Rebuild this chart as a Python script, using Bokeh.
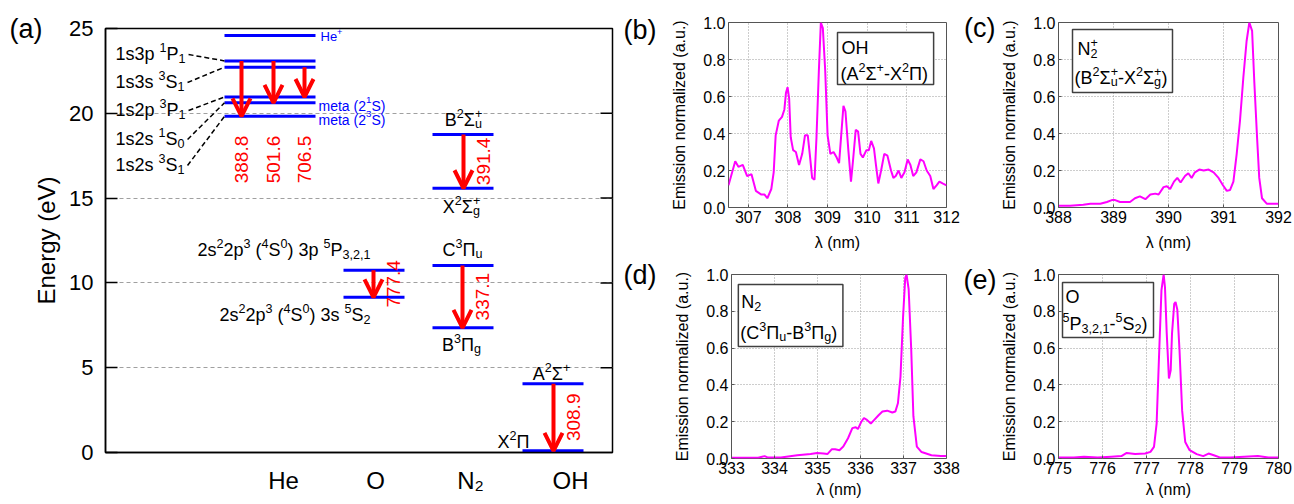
import math
from bokeh.plotting import figure
from bokeh.models import (Range1d, FixedTicker, Arrow, OpenHead, ColumnDataSource,
                          PrintfTickFormatter, LinearAxis)
from bokeh.layouts import row, column
from bokeh.embed import file_html
from bokeh.resources import INLINE
from bokeh.core.properties import value

FONT = "Liberation Sans"
RED = "#ff0000"
BLUE = "#0000ff"
MAGENTA = "#ff00ff"

# ---------------- data: panel (a) energy diagram ----------------
species = ["He", "O", "N₂", "OH"]
energy_ticks = [0, 5, 10, 15, 20, 25]
he_levels = [24.59, 23.09, 22.72, 20.96, 20.62, 19.82]
he_level_names = ["1s3p ^{1}P_{1}", "1s3s ^{3}S_{1}", "1s2p ^{3}P_{1}", "1s2s ^{1}S_{0}", "1s2s ^{3}S_{1}"]
he_named_levels = [23.09, 22.72, 20.96, 20.62, 19.82]
he_tags = ["He^{+}", "meta (2^{1}S)", "meta (2^{3}S)"]
o_levels = [10.74, 9.15]
o_level_names = ["2s^{2}2p^{3} (^{4}S^{0}) 3p ^{5}P_{3,2,1}", "2s^{2}2p^{3} (^{4}S^{0}) 3s ^{5}S_{2}"]
n2p_levels = [18.75, 15.58]
n2p_level_names = ["B^{2}Σ_{u}^{+}", "X^{2}Σ_{g}^{+}"]
n2_levels = [11.03, 7.35]
n2_level_names = ["C^{3}Π_{u}", "B^{3}Π_{g}"]
oh_levels = [4.05, 0.10]
oh_level_names = ["A^{2}Σ^{+}", "X^{2}Π"]
trans_wavelength = ["388.8", "501.6", "706.5", "777.4", "391.4", "337.1", "308.9"]
trans_upper = [23.09, 23.09, 22.72, 10.74, 18.75, 11.03, 4.05]
trans_lower = [19.82, 20.62, 20.96, 9.15, 15.58, 7.35, 0.10]

# ---------------- data: spectra ----------------
b_x = [306.50, 306.67, 306.75, 306.86, 306.97, 307.08, 307.19, 307.33, 307.41, 307.48,
       307.58, 307.64, 307.69, 307.77, 307.85, 307.91, 307.95, 307.99, 308.03, 308.07,
       308.13, 308.20, 308.28, 308.36, 308.43, 308.50, 308.55, 308.61, 308.67, 308.72,
       308.78, 308.83, 308.88, 308.94, 309.00, 309.07, 309.15, 309.23, 309.29, 309.34,
       309.40, 309.45, 309.52, 309.59, 309.64, 309.71, 309.77, 309.83, 309.89, 309.98,
       310.04, 310.10, 310.17, 310.22, 310.28, 310.35, 310.43, 310.51, 310.60, 310.66,
       310.72, 310.79, 310.86, 310.94, 311.02, 311.09, 311.16, 311.24, 311.34, 311.42,
       311.50, 311.59, 311.67, 311.75, 311.82, 311.90, 312.00]
b_y = [0.12, 0.25, 0.22, 0.23, 0.17, 0.18, 0.09, 0.07, 0.07, 0.05,
       0.10, 0.19, 0.39, 0.47, 0.49, 0.53, 0.62, 0.65, 0.59, 0.38,
       0.31, 0.30, 0.23, 0.29, 0.39, 0.39, 0.29, 0.16, 0.15, 0.38,
       0.74, 1.00, 0.97, 0.74, 0.39, 0.29, 0.30, 0.27, 0.24, 0.38,
       0.55, 0.52, 0.32, 0.14, 0.25, 0.42, 0.41, 0.29, 0.27, 0.31,
       0.31, 0.36, 0.32, 0.23, 0.13, 0.20, 0.29, 0.28, 0.20, 0.16,
       0.17, 0.20, 0.16, 0.19, 0.26, 0.23, 0.17, 0.19, 0.26, 0.25,
       0.20, 0.17, 0.10, 0.12, 0.14, 0.13, 0.12]
b_ticks = [307, 308, 309, 310, 311, 312]

c_x = [388.00, 388.21, 388.45, 388.58, 388.76, 388.88, 388.97, 389.03, 389.12, 389.21,
       389.30, 389.39, 389.48, 389.58, 389.67, 389.76, 389.82, 389.91, 389.97, 390.03,
       390.10, 390.16, 390.22, 390.30, 390.36, 390.42, 390.48, 390.56, 390.64, 390.73,
       390.82, 390.91, 390.99, 391.06, 391.12, 391.18, 391.24, 391.30, 391.36, 391.42,
       391.47, 391.52, 391.56, 391.61, 391.65, 391.70, 391.79, 392.00]
c_y = [0.01, 0.01, 0.015, 0.02, 0.02, 0.03, 0.04, 0.04, 0.03, 0.03,
       0.03, 0.05, 0.06, 0.045, 0.07, 0.075, 0.07, 0.11, 0.115, 0.10,
       0.14, 0.16, 0.135, 0.17, 0.185, 0.16, 0.19, 0.205, 0.20, 0.205,
       0.19, 0.16, 0.12, 0.09, 0.095, 0.14, 0.29, 0.47, 0.70, 0.90,
       1.00, 0.955, 0.68, 0.38, 0.16, 0.05, 0.02, 0.02]
c_ticks = [388, 389, 390, 391, 392]

d_x = [333.00, 333.62, 333.77, 333.85, 334.15, 334.53, 334.84, 334.99, 335.14, 335.23,
       335.33, 335.41, 335.51, 335.60, 335.71, 335.81, 335.89, 335.94, 336.02, 336.08,
       336.15, 336.24, 336.32, 336.42, 336.51, 336.62, 336.74, 336.81, 336.87, 336.93,
       336.99, 337.04, 337.07, 337.12, 337.18, 337.23, 337.31, 337.42, 337.65, 337.87, 338.00]
d_y = [0.004, 0.004, 0.013, 0.005, 0.005, 0.018, 0.024, 0.03, 0.027, 0.024,
       0.05, 0.05, 0.045, 0.065, 0.11, 0.165, 0.17, 0.16, 0.20, 0.22,
       0.21, 0.19, 0.21, 0.235, 0.255, 0.26, 0.25, 0.255, 0.30, 0.445,
       0.77, 0.98, 1.00, 0.92, 0.59, 0.23, 0.065, 0.035, 0.018, 0.013, 0.013]
d_ticks = [333, 334, 335, 336, 337, 338]

e_x = [775.00, 775.35, 775.58, 775.89, 776.20, 776.43, 776.55, 776.74, 776.97, 777.09,
       777.17, 777.23, 777.29, 777.34, 777.39, 777.42, 777.46, 777.51, 777.55, 777.58,
       777.63, 777.66, 777.70, 777.75, 777.81, 777.88, 777.98, 778.14, 778.29, 778.41,
       778.53, 778.68, 778.91, 779.22, 779.53, 779.77, 780.00]
e_y = [0.005, 0.005, 0.01, 0.005, 0.01, 0.013, 0.03, 0.024, 0.027, 0.036,
       0.063, 0.19, 0.59, 0.915, 1.00, 0.93, 0.68, 0.435, 0.48, 0.68,
       0.84, 0.85, 0.81, 0.59, 0.26, 0.09, 0.045, 0.024, 0.013, 0.027,
       0.018, 0.005, 0.005, 0.01, 0.013, 0.005, 0.005]
e_ticks = [775, 776, 777, 778, 779, 780]

y_ticks = [0.0, 0.2, 0.4, 0.6, 0.8, 1.0]

# ---------------- rich text helper (Arial/Liberation metrics) ----------------
W = {' ': 278, '(': 333, ')': 333, '+': 584, ',': 278, '-': 333, '.': 278,
     'A': 667, 'B': 667, 'C': 722, 'H': 722, 'N': 722, 'O': 778, 'P': 667, 'S': 667, 'X': 667,
     'a': 556, 'e': 556, 'g': 556, 'm': 833, 'p': 556, 's': 500, 't': 278, 'u': 556,
     'Σ': 618, 'Π': 722}


def tw(t, s):
    return sum(W.get(c, 556) for c in t) * s / 1000.0


def parse(markup):
    parts, buf, i = [], "", 0
    while i < len(markup):
        ch = markup[i]
        if ch in "^_" and i + 1 < len(markup) and markup[i + 1] == "{":
            if buf:
                parts.append(("n", buf))
                buf = ""
            j = markup.index("}", i)
            parts.append(("sup" if ch == "^" else "sub", markup[i + 2:j]))
            i = j + 1
        else:
            buf += ch
            i += 1
    if buf:
        parts.append(("n", buf))
    out = []
    for kind, t in parts:
        if out and kind in ("sup", "sub") and out[-1][0] in ("sup", "sub") and out[-1][0] != kind:
            pk, pt = out.pop()
            sub, sup = (t, pt) if kind == "sub" else (pt, t)
            out.append(("stack", (sub, sup)))
        else:
            out.append((kind, t))
    return out


def rich(p, x, y, markup, size, color, align="left"):
    small = 0.7 * size
    parts = parse(markup)
    widths = []
    for kind, t in parts:
        if kind == "n":
            widths.append(tw(t, size))
        elif kind == "stack":
            widths.append(max(tw(t[0], small), tw(t[1], small)))
        else:
            widths.append(tw(t, small))
    total = sum(widths)
    off = {"left": 0.0, "center": -total / 2.0, "right": -total}[align]
    base = 0.08 * size
    sup_dy = base - 0.38 * size
    sub_dy = base + 0.24 * size
    for (kind, t), w in zip(parts, widths):
        if kind == "n":
            pieces = [(t, size, base)]
        elif kind == "sup":
            pieces = [(t, small, sup_dy)]
        elif kind == "sub":
            pieces = [(t, small, sub_dy)]
        else:
            pieces = [(t[0], small, sub_dy), (t[1], small, sup_dy)]
        for txt, fs, dy in pieces:
            lead = len(txt) - len(txt.lstrip(" "))
            shown = txt.strip(" ")
            if shown:
                p.text(x=[x], y=[y], text=[shown], x_offset=off + tw(" " * lead, fs), y_offset=dy,
                       text_font=value(FONT), text_font_size=f"{fs:.1f}px", text_color=color,
                       text_align="left", text_baseline="alphabetic")
        off += w
    return total


def letter_axis(p, tick, text, standoff, size="27px"):
    ax_ = LinearAxis(ticker=FixedTicker(ticks=[tick]), major_label_overrides={tick: text})
    ax_.axis_line_color = None
    ax_.major_tick_line_color = None
    ax_.minor_tick_line_color = None
    ax_.major_tick_in = 0
    ax_.major_tick_out = 0
    ax_.major_label_standoff = standoff
    ax_.major_label_text_font = FONT
    ax_.major_label_text_font_size = size
    ax_.major_label_text_color = "black"
    p.add_layout(ax_, "left")


# ---------------- panel (a) ----------------
A_L, A_R, A_T, A_B = 105, 612, 28, 452   # frame in page pixels
A_W = 620
EMAX = 25.0


def ax(px):
    return px - A_L


def ay(py):
    return (A_B - py) * EMAX / (A_B - A_T)


pa = figure(width=A_W, height=504, x_range=Range1d(0, A_R - A_L), y_range=Range1d(0, EMAX),
            output_backend="svg", toolbar_location=None,
            min_border_left=A_L, min_border_right=A_W - A_R, min_border_top=A_T, min_border_bottom=504 - A_B)
pa.background_fill_color = "white"
pa.border_fill_color = "white"
pa.outline_line_color = "black"
pa.outline_line_width = 1.5
pa.xgrid.visible = False
pa.ygrid.ticker = FixedTicker(ticks=energy_ticks[1:-1])
pa.ygrid.grid_line_color = "#a0a0a0"
pa.ygrid.grid_line_dash = "4 3"
pa.ygrid.grid_line_width = 1

pa.yaxis.ticker = FixedTicker(ticks=energy_ticks)
pa.yaxis.major_tick_in = 12
pa.yaxis.major_tick_out = 0
pa.yaxis.minor_tick_line_color = None
pa.yaxis.major_tick_line_width = 1.5
pa.yaxis.axis_line_width = 1.5
pa.yaxis.major_label_text_font = FONT
pa.yaxis.major_label_text_font_size = "22px"
pa.yaxis.major_label_text_color = "black"
pa.yaxis.major_label_standoff = 12
pa.yaxis.axis_label = "Energy (eV)"
pa.yaxis.axis_label_text_font = FONT
pa.yaxis.axis_label_text_font_size = "24px"
pa.yaxis.axis_label_text_font_style = "normal"
pa.yaxis.axis_label_text_color = "black"
pa.yaxis.axis_label_standoff = 6
letter_axis(pa, 25, "(a)", -12)

cat_px = [283, 375, 470, 570]
cat_ticks = [ax(v) for v in cat_px]
pa.xaxis.ticker = FixedTicker(ticks=cat_ticks)
pa.xaxis.major_label_overrides = {t: s for t, s in zip(cat_ticks, species)}
pa.xaxis.major_tick_in = 0
pa.xaxis.major_tick_out = 0
pa.xaxis.minor_tick_line_color = None
pa.xaxis.axis_line_width = 1.5
pa.xaxis.major_label_text_font = FONT
pa.xaxis.major_label_text_font_size = "24px"
pa.xaxis.major_label_text_color = "black"
pa.xaxis.major_label_standoff = 14

# right side inward ticks
rt = energy_ticks[1:-1]
pa.segment(x0=[ax(A_R - 12)] * len(rt), x1=[ax(A_R)] * len(rt), y0=rt, y1=rt, line_color="black", line_width=1.5)

# columns (page pixel spans)
HE_SPAN = (224, 315)
O_SPAN = (343, 404)
N2_SPAN = (432, 493)
OH_SPAN = (522, 583)


def levels(span, es):
    pa.segment(x0=[ax(span[0])] * len(es), x1=[ax(span[1])] * len(es), y0=es, y1=es,
               line_color=BLUE, line_width=3)


levels(HE_SPAN, he_levels)
levels(O_SPAN, o_levels)
levels(N2_SPAN, n2p_levels)
levels(N2_SPAN, n2_levels)
levels(OH_SPAN, oh_levels)

# arrows
arrow_px = [241, 273, 304, 373, 463, 462, 553]
asrc = ColumnDataSource(dict(x=[ax(v) for v in arrow_px], y0=trans_upper, y1=trans_lower))
pa.add_layout(Arrow(end=OpenHead(size=18, line_color=RED, line_width=4),
                    x_start="x", y_start="y0", x_end="x", y_end="y1", source=asrc,
                    line_color=RED, line_width=4))

# wavelength labels (rotated)
lab_x, lab_y = [], []
for i, xp in enumerate(arrow_px):
    if i < 3:
        lab_x.append(ax(xp))
        lab_y.append(ay(159))
    else:
        lab_x.append(ax(xp + 20))
        lab_y.append((trans_upper[i] + trans_lower[i]) / 2.0)
pa.text(x=lab_x, y=lab_y, text=trans_wavelength, angle=math.pi / 2, text_align="center",
        text_baseline="middle", text_color=RED, text_font=value(FONT), text_font_size="19px")

# He level names + connectors
he_label_py = [52, 80, 108, 137, 163]
for name, py, lev in zip(he_level_names, he_label_py, he_named_levels):
    w = rich(pa, ax(115), ay(py), name, 18, "black")
    pa.line(x=[ax(115 + w + 3), ax(HE_SPAN[0])], y=[ay(py + 2), lev], line_color="black",
            line_width=1.5, line_dash="5 3")

# He small blue tags
tag_px = [(320, 35), (318, 104), (318, 118)]
for tag, (xp, yp), size in zip(he_tags, tag_px, [13, 14, 14]):
    rich(pa, ax(xp), ay(yp), tag, size, BLUE)

# O labels
rich(pa, ax(370), ay(248), o_level_names[0], 18, "black", align="right")
rich(pa, ax(370), ay(313), o_level_names[1], 18, "black", align="right")
# N2+ labels
rich(pa, ax(463), ay(118), n2p_level_names[0], 18, "black", align="center")
rich(pa, ax(461), ay(205), n2p_level_names[1], 18, "black", align="center")
# N2 labels
rich(pa, ax(462), ay(248), n2_level_names[0], 18, "black", align="center")
rich(pa, ax(461), ay(343), n2_level_names[1], 18, "black", align="center")
# OH labels
rich(pa, ax(551), ay(372), oh_level_names[0], 18, "black", align="center")
rich(pa, ax(513), ay(440), oh_level_names[1], 18, "black", align="center")


# ---------------- spectra panels ----------------
def spectrum(width, height, left_edge, top_edge, frame, xr, xticks, xs, ys, letter, letter_tick,
             letter_standoff, lam_standoff, box, legend):
    fl, fr, ft, fb = frame
    p = figure(width=width, height=height, x_range=Range1d(*xr), y_range=Range1d(0, 1),
               output_backend="svg", toolbar_location=None,
               min_border_left=fl - left_edge, min_border_right=left_edge + width - fr,
               min_border_top=ft - top_edge, min_border_bottom=top_edge + height - fb)

    def sx(px):
        return xr[0] + (px - fl) / (fr - fl) * (xr[1] - xr[0])

    def sy(py):
        return (fb - py) / (fb - ft)

    p.background_fill_color = "white"
    p.border_fill_color = "white"
    p.outline_line_color = "#555555"
    p.outline_line_width = 1
    p.grid.grid_line_color = "#9a9a9a"
    p.grid.grid_line_dash = "1 2"
    p.grid.grid_line_width = 1
    p.xaxis.ticker = FixedTicker(ticks=xticks)
    p.yaxis.ticker = FixedTicker(ticks=y_ticks)
    p.yaxis.formatter = PrintfTickFormatter(format="%.1f")
    for a in (p.xaxis[0], p.yaxis[0]):
        a.axis_line_color = None
        a.major_tick_in = 3
        a.major_tick_out = 0
        a.major_tick_line_color = "#555555"
        a.minor_tick_line_color = None
        a.major_label_text_font = FONT
        a.major_label_text_font_size = "16px"
        a.major_label_text_color = "black"
        a.major_label_standoff = 3
        a.axis_label_text_font = FONT
        a.axis_label_text_font_size = "16px"
        a.axis_label_text_font_style = "normal"
        a.axis_label_text_color = "black"
    p.yaxis.axis_label = "Emission normalized (a.u.)"
    p.yaxis.axis_label_standoff = 12
    p.xaxis.axis_label = "λ (nm)"
    p.xaxis.axis_label_standoff = lam_standoff
    letter_axis(p, letter_tick, letter, letter_standoff)

    p.line(xs, ys, line_color=MAGENTA, line_width=2)

    bl, br, bt, bb = box
    p.quad(left=[sx(bl)], right=[sx(br)], top=[sy(bt)], bottom=[sy(bb)], fill_color="white",
           line_color="#404040", line_width=1.5)
    for markup, lx, ly in legend:
        rich(p, sx(lx), sy(ly), markup, 18, "black")
    return p


pb = spectrum(340, 256, 620, 0, (726, 946, 22, 207), (306.5, 312), b_ticks, b_x, b_y, "(b)", 0.96, 12, 8,
              (836, 933, 32, 84), [("OH", 840, 46), ("(A^{2}Σ^{+}-X^{2}Π)", 839, 72)])
pc = spectrum(334, 256, 960, 0, (1058, 1278, 22, 207), (388, 392), c_ticks, c_x, c_y, "(c)", 0.97, 3, 8,
              (1072, 1172, 29, 92), [("N_{2}^{+}", 1077, 47), ("(B^{2}Σ_{u}^{+}-X^{2}Σ_{g}^{+})", 1074, 76)])
pd = spectrum(340, 248, 620, 256, (726, 946, 274, 458), (333, 338), d_ticks, d_x, d_y, "(d)", 1.0, 15, 4,
              (733, 840, 284, 346), [("N_{2}", 736, 300), ("(C^{3}Π_{u}-B^{3}Π_{g})", 735, 331)])
pe = spectrum(334, 248, 960, 256, (1058, 1278, 274, 458), (775, 780), e_ticks, e_x, e_y, "(e)", 0.97, 2, 4,
              (1062, 1153, 282, 337), [("O", 1065, 295), ("^{5}P_{3,2,1}-^{5}S_{2})", 1062, 322)])

layout = row(pa, column(row(pb, pc), row(pd, pe)))

with open("out.html", "w") as f:
    f.write(file_html(layout, INLINE))
